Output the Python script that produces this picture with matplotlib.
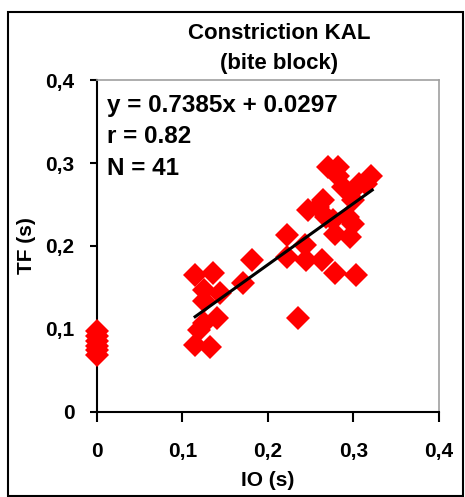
"""Scatter of TF vs IO for constriction KAL (bite block)"""

import matplotlib
matplotlib.use('agg')
import matplotlib.pyplot as plt
from matplotlib.patches import Rectangle
import numpy as np

io_values = [0.0, 0.0, 0.0, 0.0, 0.0, 0.0,
             0.115, 0.136, 0.125, 0.144, 0.125, 0.140, 0.125, 0.115, 0.132,
             0.119, 0.171, 0.181, 0.222, 0.222, 0.235, 0.243, 0.245, 0.247,
             0.263, 0.259, 0.268, 0.278, 0.278, 0.270, 0.282, 0.282, 0.288,
             0.294, 0.296, 0.300, 0.303, 0.300, 0.307, 0.321, 0.315, 0.265,
             0.276]
tf_values = [0.069, 0.074, 0.079, 0.085, 0.091, 0.097,
             0.165, 0.167, 0.147, 0.143, 0.133, 0.113, 0.107, 0.080, 0.078,
             0.098, 0.155, 0.183, 0.213, 0.187, 0.113, 0.201, 0.183, 0.243,
             0.183, 0.247, 0.235, 0.167, 0.215, 0.295, 0.295, 0.285, 0.271,
             0.235, 0.211, 0.227, 0.165, 0.255, 0.275, 0.285, 0.275, 0.255,
             0.231]
slope = 0.7385
intercept = 0.0297
fit_range = [0.115, 0.322]
ticks = [0, 0.1, 0.2, 0.3, 0.4]
tick_labels = ["0", "0,1", "0,2", "0,3", "0,4"]
stats_lines = ["y = 0.7385x + 0.0297", "r = 0.82", "N = 41"]


def main():
    plt.rcParams['font.family'] = ['Liberation Sans', 'DejaVu Sans']
    fig = plt.figure(figsize=(4.65, 4.97), dpi=100)
    ax = fig.add_axes([0.208, 0.1716, 0.736, 0.667])

    ax.plot(io_values, tf_values, linestyle='none', marker='D',
            markersize=12, color='#ff0000', markeredgewidth=0,
            clip_on=False, zorder=3)
    fx = np.asarray(fit_range)
    ax.plot(fx, slope * fx + intercept, color='black', lw=2.2, zorder=4)

    ax.set_xlim(0, 0.4)
    ax.set_ylim(0, 0.4)
    ax.set_xticks(ticks)
    ax.set_yticks(ticks)
    ax.set_xticklabels(tick_labels, fontsize=15, fontweight='bold')
    ax.set_yticklabels(tick_labels, fontsize=15, fontweight='bold')
    ax.tick_params(axis='x', direction='out', length=7, width=1.5, pad=15)
    ax.tick_params(axis='y', direction='out', length=5, width=1.5, pad=11)
    for side in ['left', 'bottom']:
        ax.spines[side].set_linewidth(1.5)
        ax.spines[side].set_color('black')
    for side in ['top', 'right']:
        ax.spines[side].set_linewidth(1.2)
        ax.spines[side].set_color('#a0a0a0')

    ax.set_xlabel("IO (s)", fontsize=15, fontweight='bold', labelpad=7)
    ax.set_ylabel("TF (s)", fontsize=15, fontweight='bold', labelpad=7)

    for i, line in enumerate(stats_lines):
        ax.text(0.03, 0.925 - i * 0.095, line, transform=ax.transAxes,
                fontsize=17.5, fontweight='bold', va='center', ha='left')

    fig.text(0.6, 0.9335, "Constriction KAL", fontsize=16,
             fontweight='bold', ha='center', va='center')
    fig.text(0.6, 0.873, "(bite block)", fontsize=16,
             fontweight='bold', ha='center', va='center')

    fig.patches.append(Rectangle((0.018, 0.002), 0.978, 0.974,
                                 transform=fig.transFigure, fill=False,
                                 edgecolor='black', lw=1.5))
    fig.savefig("out.png", dpi=100)


if __name__ == "__main__":
    main()
